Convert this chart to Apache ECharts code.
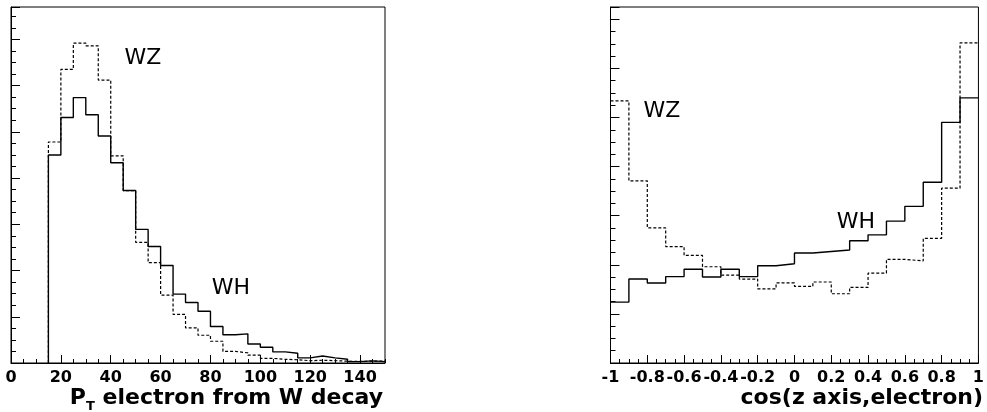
<!DOCTYPE html>
<html>
<head>
<meta charset="utf-8">
<script src="https://cdn.jsdelivr.net/npm/echarts@6/dist/echarts.min.js"></script>
<style>html,body{margin:0;padding:0;background:#fff}#c{width:987px;height:412px}</style>
</head>
<body>
<div id="c"></div>
<script>
// ---- Left panel: electron pT from W decay (bin lower edges, bin width 5) ----
const ptBins = [15,20,25,30,35,40,45,50,55,60,65,70,75,80,85,90,95,100,105,110,115,120,125,130,135,140,145];
const ptBinWidth = 5;
const ptWH = [45.0,53.1,57.4,53.7,49.1,43.3,37.3,28.9,25.2,21.1,14.9,13.1,11.2,7.9,6.1,6.3,4.1,3.4,2.4,2.1,1.1,1.5,1.1,0.8,0.3,0.45,0.3];
const ptWZ = [47.8,63.5,69.2,68.6,61.2,44.8,37.3,26.1,21.7,14.7,10.5,7.6,6.0,4.7,2.5,2.2,1.7,1.0,0.8,0.7,0.5,0.6,0.5,0.4,0.35,0.4,0.4];
const ptTicks = [0,20,40,60,80,100,120,140];

// ---- Right panel: cos(z axis, electron) (bin lower edges, bin width 0.1) ----
const cosBins = [-1,-0.9,-0.8,-0.7,-0.6,-0.5,-0.4,-0.3,-0.2,-0.1,0,0.1,0.2,0.3,0.4,0.5,0.6,0.7,0.8,0.9];
const cosBinWidth = 0.1;
const cosWH = [12.4,17.1,16.3,17.6,19.1,17.5,19.1,17.6,19.8,20.2,22.4,22.7,23.0,24.9,26.1,28.9,31.9,36.8,49.0,54.0];
const cosWZ = [53.4,37.1,27.5,23.7,21.9,19.6,17.9,17.1,15.1,16.3,15.6,16.5,14.1,15.4,18.3,21.1,20.8,25.4,35.6,65.2];
const cosTicks = [-1,-0.8,-0.6,-0.4,-0.2,0,0.2,0.4,0.6,0.8,1];

function histData(bins, width, vals, fromZero) {
  const d = [];
  if (fromZero) d.push([bins[0], 0]);
  bins.forEach((x, i) => d.push([x, vals[i]]));
  d.push([+(bins[bins.length - 1] + width).toFixed(6), vals[vals.length - 1]]);
  return d;
}

const chart = echarts.init(document.getElementById('c'), null, {renderer: 'canvas'});
const FONT = '"DejaVu Sans", "Liberation Sans", sans-serif';
const labelStyle = {color: '#000', fontFamily: FONT, fontWeight: 'bold', fontSize: 16, margin: 7};

function xAxes(grid, min, max, major, minor, showMax, fmt) {
  return [
    {gridIndex: grid, type: 'value', position: 'bottom', min: min, max: max, interval: major,
     axisLine: {show: true, onZero: false, lineStyle: {color: '#000', width: 1}},
     axisTick: {inside: true, length: 8, lineStyle: {color: '#000', width: 1}},
     axisLabel: Object.assign({showMaxLabel: showMax, showMinLabel: true, formatter: fmt}, labelStyle),
     splitLine: {show: false}},
    {gridIndex: grid, type: 'value', position: 'bottom', min: min, max: max, interval: minor,
     axisLine: {show: false, onZero: false},
     axisTick: {inside: true, length: 4, lineStyle: {color: '#000', width: 1}},
     axisLabel: {show: false}, splitLine: {show: false}}
  ];
}
function yAxes(grid, max) {
  return [
    {gridIndex: grid, type: 'value', position: 'left', min: 0, max: max, interval: 10,
     axisLine: {show: true, onZero: false, lineStyle: {color: '#000', width: 1}},
     axisTick: {inside: true, length: 9, lineStyle: {color: '#000', width: 1}},
     axisLabel: {show: false}, splitLine: {show: false}},
    {gridIndex: grid, type: 'value', position: 'left', min: 0, max: max, interval: 2.5,
     axisLine: {show: false, onZero: false},
     axisTick: {inside: true, length: 5, lineStyle: {color: '#000', width: 1}},
     axisLabel: {show: false}, splitLine: {show: false}}
  ];
}

const cosFmt = v => {
  const r = Math.round(v * 10) / 10;
  return r === 0 ? '0' : String(r);
};

const solid = {color: '#000', width: 1.4, type: 'solid'};
const dashed = {color: '#000', width: 1.2, type: [3, 2]};

const option = {
  animation: false,
  backgroundColor: '#fff',
  grid: [
    {left: 11, top: 7, width: 374, height: 356, show: true, borderColor: '#000', borderWidth: 1, backgroundColor: 'transparent'},
    {left: 610.5, top: 7, width: 374, height: 356, show: true, borderColor: '#000', borderWidth: 1, backgroundColor: 'transparent'}
  ],
  xAxis: [].concat(
    xAxes(0, 0, 150, 20, 5, false, v => String(v)),
    xAxes(1, -1, 1, 0.2, 0.05, true, cosFmt)
  ),
  yAxis: [].concat(yAxes(0, 77), yAxes(1, 72.5)),
  series: [
    {name: 'WZ pT', type: 'line', xAxisIndex: 0, yAxisIndex: 0, step: 'end', symbol: 'none', silent: true,
     data: histData(ptBins, ptBinWidth, ptWZ, true), lineStyle: dashed},
    {name: 'WH pT', type: 'line', xAxisIndex: 0, yAxisIndex: 0, step: 'end', symbol: 'none', silent: true,
     data: histData(ptBins, ptBinWidth, ptWH, true), lineStyle: solid},
    {name: 'WZ cos', type: 'line', xAxisIndex: 2, yAxisIndex: 2, step: 'end', symbol: 'none', silent: true,
     data: histData(cosBins, cosBinWidth, cosWZ, false), lineStyle: dashed},
    {name: 'WH cos', type: 'line', xAxisIndex: 2, yAxisIndex: 2, step: 'end', symbol: 'none', silent: true,
     data: histData(cosBins, cosBinWidth, cosWH, false), lineStyle: solid}
  ],
  graphic: [
    {type: 'text', style: {text: 'WZ', x: 143, y: 58, align: 'center', verticalAlign: 'middle', font: '22px ' + FONT, fill: '#000'}},
    {type: 'text', style: {text: 'WH', x: 231, y: 288, align: 'center', verticalAlign: 'middle', font: '22px ' + FONT, fill: '#000'}},
    {type: 'text', style: {text: 'WZ', x: 662, y: 111, align: 'center', verticalAlign: 'middle', font: '22px ' + FONT, fill: '#000'}},
    {type: 'text', style: {text: 'WH', x: 856, y: 222, align: 'center', verticalAlign: 'middle', font: '22px ' + FONT, fill: '#000'}},
    {type: 'text', style: {
      text: '{p|P}{t|T}{p| electron from W decay}', x: 383, y: 398, align: 'right', verticalAlign: 'middle', fill: '#000',
      rich: {
        p: {fontFamily: FONT, fontWeight: 'bold', fontSize: 22, fill: '#000'},
        t: {fontFamily: FONT, fontWeight: 'bold', fontSize: 13, fill: '#000', padding: [18, 0, 0, 0]}
      }}},
    {type: 'text', style: {text: 'cos(z axis,electron)', x: 983, y: 398, align: 'right', verticalAlign: 'middle',
      font: 'bold 22px ' + FONT, fill: '#000'}}
  ]
};
chart.setOption(option);
</script>
</body>
</html>
